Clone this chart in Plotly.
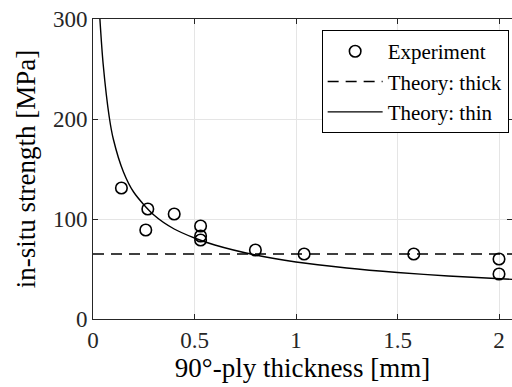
import plotly.graph_objects as go

exp_t = [0.14, 0.27, 0.26, 0.40, 0.53, 0.53, 0.53, 0.80, 1.04, 1.58, 2.00, 2.00]
exp_s = [131, 110, 89, 105, 93, 83, 79, 69, 65, 65, 60, 45]

# Theory: thick (constant)
thick_t = [0, 2.07]
thick_s = [65, 65]

# Theory: thin
thin_t = [0.034, 0.05, 0.08, 0.10, 0.15, 0.20, 0.30, 0.40, 0.50, 0.60, 0.80, 1.00, 1.25, 1.50, 1.75, 2.07]
thin_s = [300, 255, 202, 180, 147, 127, 104, 90, 81, 74, 64, 57, 51, 46.5, 43, 39.6]

font_family = "'Liberation Serif', 'Times New Roman', serif"
axis_col = "#262626"

fig = go.Figure()
fig.add_trace(go.Scatter(x=exp_t, y=exp_s, mode="markers", name="Experiment",
                         marker=dict(symbol="circle-open", size=11.5, color="black",
                                     line=dict(width=1.6, color="black"))))
fig.add_trace(go.Scatter(x=thick_t, y=thick_s, mode="lines", name="Theory: thick",
                         line=dict(color="black", width=1.4, dash="11px,7px")))
fig.add_trace(go.Scatter(x=thin_t, y=thin_s, mode="lines", name="Theory: thin",
                         line=dict(color="black", width=1.4, shape="spline", smoothing=0.8)))

fig.update_layout(
    width=512, height=387,
    margin=dict(l=93, r=0, t=19, b=68),
    paper_bgcolor="white", plot_bgcolor="white",
    font=dict(family=font_family, size=22, color="black"),
    showlegend=True,
    legend=dict(x=0.992, y=0.963, xanchor="right", yanchor="top",
                bgcolor="white", bordercolor="black", borderwidth=1,
                font=dict(size=21, family=font_family), tracegroupgap=0,
                itemwidth=55),
    xaxis=dict(range=[0, 2.064], tickvals=[0, 0.5, 1, 1.5, 2],
               ticktext=["0", "0.5", "1", "1.5", "2"],
               showgrid=True, gridcolor="#e5e5e5", gridwidth=1,
               showline=True, linecolor=axis_col, linewidth=1, mirror="ticks",
               ticks="inside", ticklen=5, tickcolor=axis_col,
               tickfont=dict(size=23, family=font_family, color=axis_col),
               title=dict(text="90°-ply thickness [mm]", standoff=5,
                          font=dict(size=27, family=font_family, color="black")),
               zeroline=False),
    yaxis=dict(range=[0, 300], tickvals=[0, 100, 200, 300],
               showgrid=True, gridcolor="#e5e5e5", gridwidth=1,
               showline=True, linecolor=axis_col, linewidth=1, mirror="ticks",
               ticks="inside", ticklen=5, tickcolor=axis_col,
               tickfont=dict(size=23, family=font_family, color=axis_col),
               title=dict(text="in-situ strength [MPa]", standoff=9,
                          font=dict(size=27, family=font_family, color="black")),
               zeroline=False),
)

fig.write_html("out.html")
